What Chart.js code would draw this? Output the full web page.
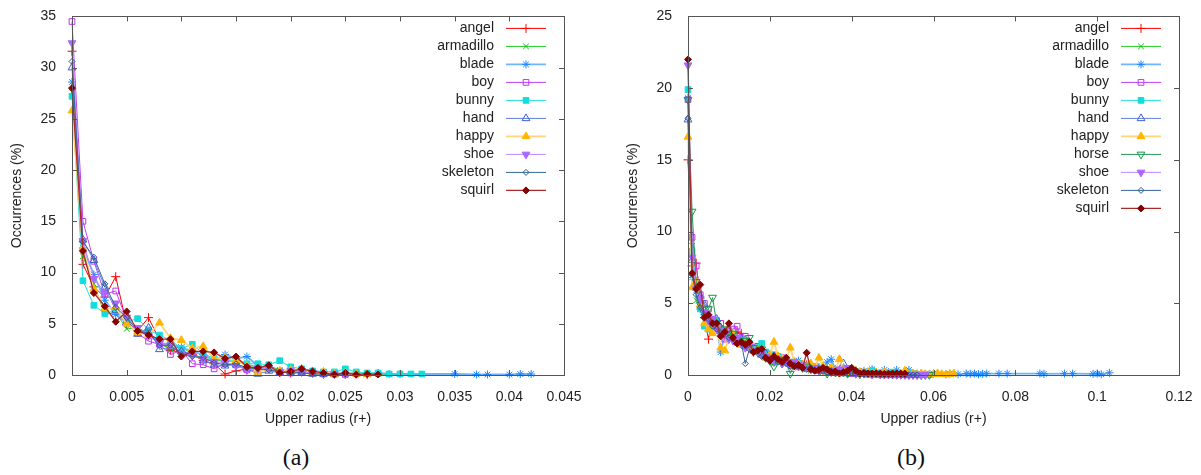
<!DOCTYPE html>
<html>
<head>
<meta charset="utf-8">
<script src="https://cdn.jsdelivr.net/npm/chart.js@4"></script>
<style>
  body { margin:0; background:#fff; width:1201px; height:475px; position:relative; overflow:hidden; }
  canvas { position:absolute; top:0; }
  #chartA { left:0; }
  #chartB { left:600px; }
  .cap { position:absolute; top:444px; font-family:"Liberation Serif", serif; font-size:24px; color:#111; transform:translateX(-50%); }
</style>
</head>
<body>
<canvas id="chartA" width="600" height="440"></canvas>
<canvas id="chartB" width="601" height="440"></canvas>
<div class="cap" style="left:296px">(a)</div>
<div class="cap" style="left:911px">(b)</div>
<script>
// series names per panel
const namesA = ["angel","armadillo","blade","boy","bunny","hand","happy","shoe","skeleton","squirl"];
const namesB = ["angel","armadillo","blade","boy","bunny","hand","happy","horse","shoe","skeleton","squirl"];

// panel (a) - upper radius samples
const xA = [0,0.001,0.002,0.003,0.004,0.005,0.006,0.007,0.008,0.009,0.01,0.011,0.012,0.013,0.014,0.015,0.016,
            0.017,0.018,0.019,0.02,0.021,0.022,0.023,0.024,0.025,0.026,0.027,0.028,0.029,0.03,0.031,0.032];
const angelA     = [31.6,10.8,8.6,7.6,9.6,4.9,4.3,5.6,3.4,2.4,2.2,2.0,1.4,1.1,0.1,0.4,0.6,0.5,0.6,0.3,0.2,0.4,0.2,0.1,0.1,0.05,0.1,0.05];
const armadilloA = [27.6,11.6,8.9,5.9,6.1,4.5,4.6,4.1,3.0,2.6,2.7,2.1,1.6,1.5,1.3,1.4,1.0,0.8,0.9,0.5,0.4,0.5,0.3,0.2,0.2,0.1,0.1,0.05,0.1,0.05];
const bladeA     = [28.6,12.4,9.8,7.3,5.9,5.1,4.4,4.2,3.1,3.0,2.7,2.3,2.0,1.4,2.0,1.6,1.8,0.9,0.6,0.4,0.3,0.6,0.4,0.3,0.2,0.1,0.2,0.1,0.2,0.1,0.1];
const bladeTailXA = [0.035,0.037,0.038,0.04,0.041,0.042];
const bladeTailYA = [0.1,0.05,0.05,0.05,0.1,0.1];
const boyA       = [34.5,15.0,11.1,7.9,8.2,5.4,4.1,3.3,3.0,2.0,2.4,1.1,1.0,0.6,1.1,1.0,0.5,0.4,0.6,0.3,0.2,0.3,0.2,0.1,0.1,0.05,0.1];
const bunnyA     = [27.2,9.2,6.8,6.0,6.3,5.2,5.5,4.4,3.9,3.4,2.6,3.0,2.1,1.6,1.4,1.5,1.1,1.1,1.0,1.4,0.8,0.6,0.4,0.3,0.3,0.6,0.3,0.2,0.2,0.1,0.1,0.1,0.1];
const handA      = [30.0,13.2,11.2,8.6,6.3,5.1,4.0,4.6,2.5,2.7,2.3,2.1,1.4,1.0,0.9,1.0,0.6,0.1,0.4,0.2,0.3,0.2,0.1,0.1,0.05];
const happyA     = [25.8,12.4,8.4,6.5,6.6,5.0,4.2,3.9,5.1,3.6,3.4,2.6,2.8,1.6,1.7,1.4,0.9,0.3,0.6,0.4,0.5,0.6,0.2,0.3,0.1,0.2,0.1,0.05];
const shoeA      = [32.4,13.1,9.4,8.1,7.0,5.6,4.6,3.8,3.1,2.9,2.1,1.9,1.6,1.3,1.2,0.9,0.5,0.6,0.7,0.3,0.4,0.3,0.2,0.1,0.1,0.05];
const skeletonA  = [30.6,13.0,11.5,8.9,6.6,5.6,4.3,4.1,2.9,2.9,2.0,1.8,1.7,1.2,1.0,1.1,0.7,0.6,0.5,0.3,0.2,0.2,0.1,0.1,0.05,0.1];
const squirlA    = [28.0,12.1,8.0,6.7,5.2,6.2,4.3,3.9,3.5,3.5,1.8,2.3,2.3,2.2,1.6,1.8,0.8,0.7,0.95,0.2,0.35,0.6,0.35,0.2,0.05,0.2,0.05,0.1,0.05];

// panel (b)
const xB = [0,0.001,0.002,0.003,0.004,0.005,0.006,0.007,0.008,0.009,0.01,0.011,0.012,0.013,0.014,0.015,0.016,0.017,0.018,0.019,
            0.02,0.021,0.022,0.023,0.024,0.025,0.026,0.027,0.028,0.029,0.03,0.031,0.032,0.033,0.034,0.035,0.036,0.037,0.038,0.039,
            0.04,0.041,0.042,0.043,0.044,0.045,0.046,0.047,0.048,0.049,0.05,0.051,0.052,0.053,0.054,0.055,0.056,0.057,0.058,0.059,
            0.06,0.061,0.062,0.063,0.064,0.065];
const angelB     = [15.0,7.6,7.8,5.2,4.0,2.5,3.8,3.4,3.1,2.7,2.8,2.5,3.0,2.9,2.3,2.0,1.8,1.9,1.5,1.3,1.4,1.1,1.2,0.9,1.0,0.8,0.7,0.9,0.6,0.7,
                    0.5,0.4,0.5,0.3,0.4,0.3,0.2,0.3,0.2,0.15,0.2,0.1,0.15,0.1,0.1,0.08,0.1,0.05,0.08,0.05,0.05,0.03,0.05,0.03,0.02,0.03,0.02,0.01];
const armadilloB = [19.2,9.0,5.2,4.8,4.5,3.9,3.6,3.7,3.2,3.3,2.9,2.6,2.4,2.2,2.3,1.9,1.8,1.6,1.5,1.4,1.2,0.8,1.0,0.9,0.8,0.6,0.7,0.5,0.6,0.4,
                    0.3,0.4,0.3,0.2,0.3,0.2,0.15,0.1,0.15,0.1,0.1,0.08,0.05,0.08,0.05,0.05,0.04,0.03,0.05,0.03,0.02,0.03,0.02,0.02,0.01,0.02,0.01,0.01,0.01,0.01];
const bladeB     = [19.3,6.8,5.9,4.6,4.2,3.6,3.4,3.5,1.6,2.9,2.7,2.6,2.2,2.4,2.0,1.9,1.7,1.8,1.5,1.2,1.3,1.1,1.3,0.9,1.0,0.7,0.8,1.0,0.6,0.5,
                    0.6,0.4,0.5,0.4,0.9,1.1,0.4,0.3,0.3,0.4,0.2,0.3,0.2,0.3,0.2,0.4,0.2,0.15,0.35,0.2,0.1,0.35,0.1,0.1,0.35,0.1,0.08,0.1,0.05,0.08,0.1];
const bladeTailXB = [0.063,0.064,0.066,0.068,0.069,0.07,0.071,0.072,0.073,0.076,0.078,0.086,0.087,0.092,0.094,0.099,0.1,0.101,0.103];
const bladeTailYB = [0.05,0.1,0.05,0.1,0.08,0.1,0.05,0.08,0.1,0.1,0.1,0.1,0.08,0.1,0.1,0.08,0.1,0.05,0.15];
const boyB       = [19.2,9.6,7.6,5.6,5.0,4.6,3.9,3.4,3.6,2.5,3.1,3.2,3.4,2.6,2.7,2.1,1.9,2.0,1.7,1.5,1.3,1.4,1.1,1.2,0.9,0.8,0.9,0.7,0.6,0.5,
                    0.6,0.4,0.3,0.4,0.3,0.2,0.3,0.2,0.15,0.2,0.1,0.15,0.1,0.1,0.05,0.1,0.05,0.05,0.03,0.05,0.03,0.02,0.03,0.02,0.01,0.02,0.01];
const bunnyB     = [19.9,8.6,6.1,4.6,3.4,3.2,3.6,3.8,3.0,3.1,2.6,2.8,2.3,2.5,2.1,2.2,1.8,1.9,2.2,1.6,1.4,1.2,1.3,1.0,1.1,0.9,0.7,0.8,0.6,0.7,
                    0.5,0.6,0.4,0.5,0.3,0.4,0.3,0.25,0.2,0.3,0.2,0.15,0.2,0.1,0.15,0.3,0.1,0.1,0.08,0.1,0.2,0.05,0.1,0.05,0.05,0.1,0.05,0.03,0.05,0.03];
const handB      = [17.8,8.0,6.3,5.5,4.9,4.0,3.6,3.9,3.3,2.8,3.0,2.7,2.3,2.5,2.0,2.1,1.7,1.6,1.4,1.5,1.2,1.3,1.0,0.9,1.0,0.8,0.7,0.6,0.7,0.5,
                    0.4,0.5,0.3,0.4,0.3,0.2,0.3,0.2,0.8,0.2,0.15,0.1,0.15,0.1,0.1,0.05,0.1,0.05,0.05,0.03,0.05,0.03,0.02,0.03,0.02,0.01,0.02,0.01];
const happyB     = [16.6,6.1,6.5,4.9,3.6,3.2,2.9,3.5,1.9,1.7,2.6,2.8,2.4,2.1,2.3,1.9,1.7,1.8,1.5,1.2,1.4,2.3,1.3,1.1,1.0,1.9,0.9,0.8,0.7,0.6,
                    0.8,0.5,1.2,0.6,0.4,0.5,0.3,1.1,0.4,0.3,0.2,0.3,0.2,0.15,0.2,0.1,0.15,0.1,0.2,0.1,0.05,0.1,0.05,0.3,0.05,0.1,0.05,0.1,0.05,0.03,
                    0.05,0.1,0.05,0.03,0.05,0.1];
const horseB     = [19.2,11.4,6.5,4.9,4.3,4.6,5.4,3.6,3.0,3.2,2.7,2.9,2.5,2.2,2.4,2.6,1.9,1.6,1.8,1.2,1.0,0.6,1.1,0.8,0.9,0.1,0.7,0.6,0.5,0.6,
                    0.4,0.5,0.3,0.4,0.1,0.3,0.2,0.3,0.2,0.1,0.2,0.1,0.05,0.1,0.15,0.05,0.1,0.05,0.03,0.05,0.03,0.02,0.03,0.02,0.01,0.02,0.01,0.01,0.02,0.01];
const shoeB      = [21.6,8.2,6.0,5.3,4.4,3.8,3.9,3.2,2.9,3.1,2.5,2.4,2.6,2.2,1.9,2.1,1.6,1.7,1.4,1.3,1.2,1.0,1.1,0.8,0.9,0.7,0.9,0.6,0.7,0.5,
                    0.4,0.5,0.3,0.4,0.3,0.2,0.3,0.4,0.2,0.5,0.2,0.1,0.15,0.1,0.1,0.05,0.1,0.05,0.05,0.03,0.05,0.03,0.02,0.03,0.02,0.01,0.02,0.01,0.01];
const skeletonB  = [17.9,7.0,5.6,4.7,4.2,3.9,3.4,3.2,2.9,3.0,2.6,2.5,2.2,2.3,0.8,1.8,1.6,1.7,1.3,1.2,1.1,1.2,0.9,1.0,0.8,0.6,0.7,0.6,0.5,0.4,
                    0.5,0.3,0.4,0.3,0.2,0.3,0.2,0.15,0.2,0.1,0.15,0.1,0.1,0.05,0.1,0.05,0.05,0.03,0.05,0.03,0.02,0.03,0.02,0.01,0.02,0.01,0.01];
const squirlB    = [22.0,7.1,6.0,6.3,4.0,4.2,3.6,3.6,2.7,3.0,3.6,2.6,2.2,2.3,2.1,2.3,1.6,1.7,1.8,1.2,1.0,1.3,1.1,0.9,1.2,0.8,0.6,0.7,0.5,1.55,
                    0.4,0.3,0.35,0.5,0.4,0.2,0.25,0.1,0.2,0.3,0.5,0.3,0.1,0.15,0.1,0.1,0.12,0.1,0.08,0.1,0.1,0.12,0.1,0.1];

const valuesA = {angel:angelA, armadillo:armadilloA, blade:bladeA, boy:boyA, bunny:bunnyA, hand:handA,
                 happy:happyA, shoe:shoeA, skeleton:skeletonA, squirl:squirlA};
const valuesB = {angel:angelB, armadillo:armadilloB, blade:bladeB, boy:boyB, bunny:bunnyB, hand:handB,
                 happy:happyB, horse:horseB, shoe:shoeB, skeleton:skeletonB, squirl:squirlB};

// look of each series
const styles = {
  angel:     {line:'#ff0000', mark:'#ff0000', pt:'cross',    open:false, r:4.5},
  armadillo: {line:'#22cc22', mark:'#11bb11', pt:'crossRot', open:false, r:4},
  blade:     {line:'#6fb4ff', mark:'#1e88ff', pt:'star',     open:false, r:4, w:1.8},
  boy:       {line:'#c040f0', mark:'#c030f0', pt:'rect',     open:true,  r:4},
  bunny:     {line:'#22dddd', mark:'#11dddd', pt:'rect',     open:false, r:4},
  hand:      {line:'#5f7fdd', mark:'#3f5fd0', pt:'triangle', open:true,  r:4.5},
  happy:     {line:'#ffd47a', mark:'#ffb400', pt:'triangle', open:false, r:4.5, w:1.8},
  horse:     {line:'#229955', mark:'#119944', pt:'triangle', open:true,  r:4.5, rot:180},
  shoe:      {line:'#bb88ff', mark:'#aa66ff', pt:'triangle', open:false, r:4.5, rot:180},
  skeleton:  {line:'#336699', mark:'#2a5b8a', pt:'rectRot',  open:true,  r:3},
  squirl:    {line:'#aa2a2a', mark:'#880000', pt:'rectRot',  open:false, r:3.5, w:1.3}
};

function makeDatasets(names, xs, values, tailX, tailY) {
  return names.map((name, i) => {
    const st = styles[name];
    const ys = values[name];
    const pts = ys.map((y, k) => ({x: xs[k], y: y}));
    if (name === 'blade') tailX.forEach((x, k) => pts.push({x: x, y: tailY[k]}));
    return {
      label: name,
      data: pts,
      order: names.length - i,
      borderColor: st.line,
      borderWidth: st.w || 1,
      pointStyle: st.pt,
      pointRadius: st.r,
      pointRotation: st.rot || 0,
      pointBorderColor: st.mark,
      pointBackgroundColor: st.open ? 'rgba(0,0,0,0)' : st.mark,
      pointBorderWidth: 1,
      tension: 0,
      clip: false
    };
  });
}

// legend inside plot, text left of the line sample (gnuplot style)
const legendInside = {
  id: 'legendInside',
  afterDraw(chart) {
    const {ctx, chartArea} = chart;
    ctx.save();
    ctx.font = '14px "Liberation Sans", Arial, sans-serif';
    ctx.textAlign = 'right';
    ctx.textBaseline = 'middle';
    chart.data.datasets.forEach((ds, i) => {
      const y = chartArea.top + 12 + i * 18;
      ctx.fillStyle = '#222';
      ctx.fillText(ds.label, chartArea.right - 70, y);
      ctx.strokeStyle = ds.borderColor;
      ctx.lineWidth = ds.borderWidth;
      ctx.beginPath();
      ctx.moveTo(chartArea.right - 58, y);
      ctx.lineTo(chartArea.right - 18, y);
      ctx.stroke();
      ctx.fillStyle = ds.pointBackgroundColor;
      ctx.strokeStyle = ds.pointBorderColor;
      ctx.lineWidth = 1;
      Chart.helpers.drawPoint(ctx, {pointStyle: ds.pointStyle, radius: ds.pointRadius,
        rotation: ds.pointRotation, borderWidth: 1}, chartArea.right - 38, y);
    });
    ctx.restore();
  }
};

// full frame + inward mirrored ticks
const frameTicks = {
  id: 'frameTicks',
  afterDatasetsDraw(chart) {
    const {ctx, chartArea: a, scales} = chart;
    ctx.save();
    ctx.strokeStyle = '#555';
    ctx.lineWidth = 1;
    ctx.strokeRect(Math.round(a.left) + 0.5, Math.round(a.top) + 0.5,
                   Math.round(a.right - a.left), Math.round(a.bottom - a.top));
    ctx.beginPath();
    scales.x.ticks.forEach(t => {
      const px = Math.round(scales.x.getPixelForValue(t.value)) + 0.5;
      ctx.moveTo(px, a.bottom); ctx.lineTo(px, a.bottom - 5);
      ctx.moveTo(px, a.top); ctx.lineTo(px, a.top + 5);
    });
    scales.y.ticks.forEach(t => {
      const py = Math.round(scales.y.getPixelForValue(t.value)) + 0.5;
      ctx.moveTo(a.left, py); ctx.lineTo(a.left + 5, py);
      ctx.moveTo(a.right, py); ctx.lineTo(a.right - 5, py);
    });
    ctx.stroke();
    ctx.restore();
  }
};

Chart.defaults.font.family = '"Liberation Sans", Arial, sans-serif';

function makeOptions(xMax, xStep, yMax, padLeft, padRight) {
  return {
    responsive: false,
    animation: false,
    layout: {padding: {top: 16, left: padLeft, right: padRight, bottom: 0}},
    plugins: {legend: {display: false}, tooltip: {enabled: false}},
    scales: {
      x: {
        type: 'linear', min: 0, max: xMax,
        grid: {display: false},
        border: {color: '#555'},
        ticks: {stepSize: xStep, padding: 6, color: '#222', font: {size: 14}, maxRotation: 0, autoSkip: false,
                callback: v => String(+v.toFixed(4))},
        title: {display: true, text: 'Upper radius (r+)', color: '#222', font: {size: 14}, padding: {top: 4, bottom: 12}},
        afterFit: s => { s.height = 65; }
      },
      y: {
        min: 0, max: yMax,
        grid: {display: false},
        border: {color: '#555'},
        ticks: {stepSize: 5, padding: 8, color: '#222', font: {size: 14}},
        title: {display: true, text: 'Occurrences (%)', color: '#222', font: {size: 14}, padding: {top: 9, bottom: 0}},
        afterFit: s => { s.width = 72; }
      }
    }
  };
}

new Chart(document.getElementById('chartA'), {
  type: 'line',
  data: {datasets: makeDatasets(namesA, xA, valuesA, bladeTailXA, bladeTailYA)},
  options: makeOptions(0.045, 0.005, 35, 0, 36),
  plugins: [frameTicks, legendInside]
});

new Chart(document.getElementById('chartB'), {
  type: 'line',
  data: {datasets: makeDatasets(namesB, xB, valuesB, bladeTailXB, bladeTailYB)},
  options: makeOptions(0.12, 0.02, 25, 16, 22),
  plugins: [frameTicks, legendInside]
});
</script>
</body>
</html>
